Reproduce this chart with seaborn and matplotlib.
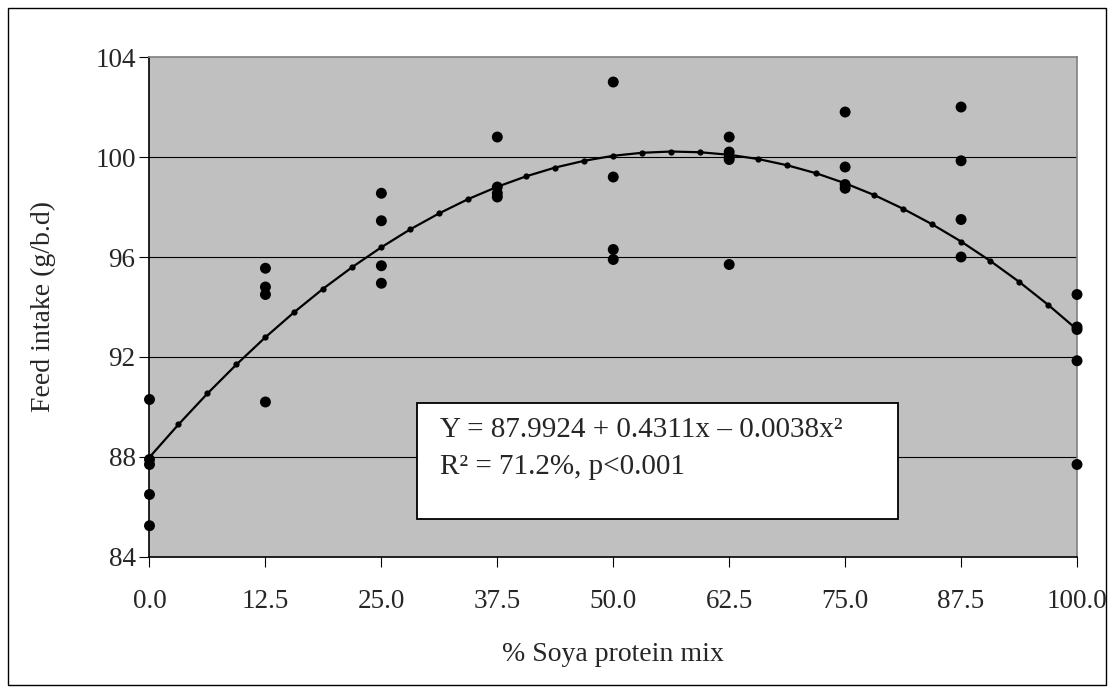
import numpy as np
import pandas as pd
import matplotlib
matplotlib.use("Agg")
from matplotlib import pyplot as plt
from matplotlib.patches import Rectangle
import seaborn as sns

# observed feed intake per soya level
soya_levels = [0.0, 12.5, 25.0, 37.5, 50.0, 62.5, 75.0, 87.5, 100.0]
intake_0 = [90.3, 87.9, 87.7, 86.5, 85.25]
intake_12 = [95.55, 94.8, 94.5, 90.2]
intake_25 = [98.55, 97.45, 95.65, 94.95]
intake_37 = [100.8, 98.8, 98.55, 98.4]
intake_50 = [103.0, 99.2, 96.3, 95.9]
intake_62 = [100.8, 100.2, 100.0, 99.9, 95.7]
intake_75 = [101.8, 99.6, 98.9, 98.75]
intake_87 = [102.0, 99.85, 97.5, 96.0]
intake_100 = [94.5, 93.2, 93.1, 91.85, 87.7]

# fitted curve at its marker positions
curve_x = [0.0, 3.125, 6.25, 9.375, 12.5, 15.625, 18.75, 21.875, 25.0, 28.125,
           31.25, 34.375, 37.5, 40.625, 43.75, 46.875, 50.0, 53.125, 56.25,
           59.375, 62.5, 65.625, 68.75, 71.875, 75.0, 78.125, 81.25, 84.375,
           87.5, 90.625, 93.75, 96.875, 100.0]
curve_y = [87.99, 89.30, 90.54, 91.70, 92.79, 93.80, 94.74, 95.60, 96.39, 97.11,
           97.75, 98.32, 98.81, 99.23, 99.58, 99.85, 100.05, 100.17, 100.22,
           100.19, 100.09, 99.92, 99.67, 99.35, 98.95, 98.48, 97.93, 97.31,
           96.62, 95.85, 95.01, 94.09, 93.10]

x_ticks = [0.0, 12.5, 25.0, 37.5, 50.0, 62.5, 75.0, 87.5, 100.0]
y_ticks = [84, 88, 92, 96, 100, 104]

all_obs = [intake_0, intake_12, intake_25, intake_37, intake_50,
           intake_62, intake_75, intake_87, intake_100]
rows = []
for lvl, vals in zip(soya_levels, all_obs):
    for v in vals:
        rows.append({'soya': lvl, 'intake': v})
obs = pd.DataFrame(rows)
fit = pd.DataFrame({'soya': curve_x, 'intake': curve_y})

sns.set_style('white')
plt.rcParams['font.family'] = ['Liberation Serif', 'DejaVu Serif']

fig = plt.figure(figsize=(11.14, 6.93), dpi=100)
ax = fig.add_axes([0.1342, 0.1963, 0.8326, 0.7214])
ax.set_facecolor('#c0c0c0')

for y in y_ticks[1:-1]:
    ax.axhline(y, color='black', lw=0.8, zorder=1)

sns.lineplot(data=fit, x='soya', y='intake', ax=ax, color='black', lw=1.6,
             marker='o', markersize=4.5, markeredgewidth=0, zorder=3)
sns.scatterplot(data=obs, x='soya', y='intake', ax=ax, color='black', s=62,
                edgecolor='none', zorder=4, clip_on=False)

ax.set_xlim(0, 100)
ax.set_ylim(84, 104)
ax.set_xticks(x_ticks)
ax.set_xticklabels(['%.1f' % t for t in x_ticks])
ax.set_yticks(y_ticks)
ax.tick_params(axis='both', direction='out', length=7, width=0.8,
               color='black', labelsize=19.5, left=True, bottom=True)
ax.tick_params(axis='x', pad=16)
ax.tick_params(axis='y', pad=3)
for side in ['left', 'bottom']:
    ax.spines[side].set_color('black')
    ax.spines[side].set_linewidth(1.2)
for side in ['top', 'right']:
    ax.spines[side].set_color('#808080')
    ax.spines[side].set_linewidth(1.2)

ax.set_xlabel('% Soya protein mix', fontsize=20, labelpad=20)
ax.set_ylabel('Feed intake (g/b.d)', fontsize=20, labelpad=28)

# equation box
W, H = 1114, 693
fig.patches.append(Rectangle((417 / W, 1 - 519 / H), 481 / W, 116 / H,
                             transform=fig.transFigure, facecolor='white',
                             edgecolor='black', lw=1.3, zorder=5))
fig.text(440 / W, 1 - 430 / H, 'Y = 87.9924 + 0.4311x \u2013 0.0038x\u00b2',
         fontsize=21, va='center', ha='left', zorder=6)
fig.text(440 / W, 1 - 467 / H, 'R\u00b2 = 71.2%, p<0.001',
         fontsize=21, va='center', ha='left', zorder=6)

# outer frame
fig.patches.append(Rectangle((8 / W, 8 / H), 1098 / W, 677 / H,
                             transform=fig.transFigure, facecolor='none',
                             edgecolor='black', lw=1.0))

fig.savefig('out.png', dpi=100)
